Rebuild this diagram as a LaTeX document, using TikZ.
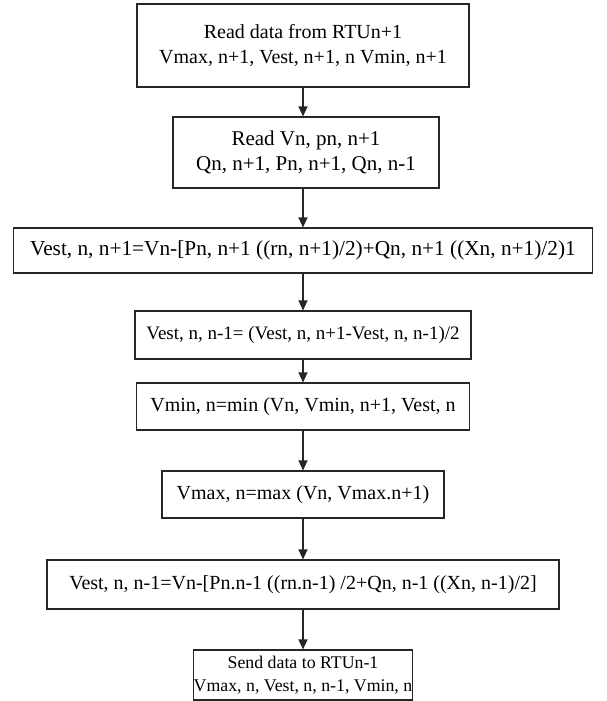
\documentclass[tikz,border=0pt]{standalone}
\usepackage{fontspec}
\setmainfont{Liberation Serif}
\usetikzlibrary{arrows.meta}
\begin{document}
\begin{tikzpicture}[x=1pt,y=-1pt,
  box/.style={draw=black!85,line width=1.1pt,inner sep=0pt,align=center,
    font=\fontsize{20}{25}\selectfont},
  arr/.style={-{Triangle[length=10pt,width=9pt]},line width=1.1pt,draw=black!85}]
\useasboundingbox (0,0) rectangle (606,701);
\node[box,minimum width=332pt,minimum height=83pt] (b1) at (303,45.5)
  {Read data from RTUn+1\\Vmax, n+1, Vest, n+1, n Vmin, n+1};
\node[box,minimum width=266pt,minimum height=71pt,font=\fontsize{21}{25}\selectfont] (b2) at (306,152.5)
  {Read Vn, pn, n+1\\Qn, n+1, Pn, n+1, Qn, n-1};
\node[box,minimum width=579pt,minimum height=45pt,font=\fontsize{21.3}{25}\selectfont] (b3) at (303,250.5)
  {Vest, n, n+1=Vn-[Pn, n+1 ((rn, n+1)/2)+Qn, n+1 ((Xn, n+1)/2)1};
\node[box,minimum width=336pt,minimum height=48pt,font=\fontsize{19}{24}\selectfont] (b4) at (303,335)
  {Vest, n, n-1= (Vest, n, n+1-Vest, n, n-1)/2};
\node[box,minimum width=333pt,minimum height=47pt] (b5) at (303,406.5)
  {Vmin, n=min (Vn, Vmin, n+1, Vest, n};
\node[box,minimum width=282pt,minimum height=47pt] (b6) at (303,494.5)
  {Vmax, n=max (Vn, Vmax.n+1)};
\node[box,minimum width=512pt,minimum height=49pt] (b7) at (303,584.5)
  {Vest, n, n-1=Vn-[Pn.n-1 ((rn.n-1) /2+Qn, n-1 ((Xn, n-1)/2]};
\node[box,minimum width=219pt,minimum height=50pt,font=\fontsize{17.8}{23}\selectfont] (b8) at (303,675)
  {Send data to RTUn-1\\Vmax, n, Vest, n, n-1, Vmin, n};
\draw[arr] (b1.south) -- (b1.south |- b2.north);
\draw[arr] (b1.south |- b2.south) -- (b1.south |- b3.north);
\draw[arr] (b3.south) -- (b4.north);
\draw[arr] (b4.south) -- (b5.north);
\draw[arr] (b5.south) -- (b6.north);
\draw[arr] (b6.south) -- (b7.north);
\draw[arr] (b7.south) -- (b8.north);
\end{tikzpicture}
\end{document}
